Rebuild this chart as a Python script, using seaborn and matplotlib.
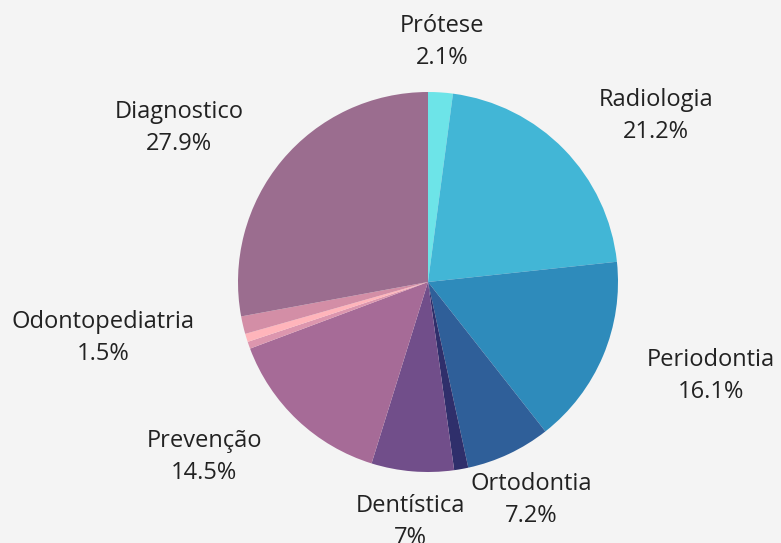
import numpy as np
import matplotlib
matplotlib.use("Agg")
import matplotlib.pyplot as plt
import seaborn as sns

# slices clockwise from 12 o'clock
categories = ["Prótese", "Radiologia", "Periodontia", "Ortodontia", "Endodontia",
              "Dentística", "Prevenção", "Estomatologia", "Cirurgia",
              "Odontopediatria", "Diagnostico"]
values = [2.1, 21.2, 16.1, 7.2, 1.2, 7.0, 14.5, 0.6, 0.7, 1.5, 27.9]
pct_labels = ["2.1%", "21.2%", "16.1%", "7.2%", "", "7%", "14.5%", "", "", "1.5%", "27.9%"]
colors = ["#6de4e8", "#42b6d6", "#2e8bbb", "#2f5f99", "#2f2f6b",
          "#714e8a", "#a66b97", "#dc96ae", "#ffb5bb", "#d38ea6", "#9b6d8f"]

# label nudges in pixels (right, down)
nudges = [(0, 0), (18, 11), (23, -17), (-48, -3), (0, 0),
          (0, 0), (-20, -8), (0, 0), (0, 0), (-26, 8), (-21, 10)]

sns.set_theme(style="white")
plt.rcParams["font.family"] = ["Open Sans", "DejaVu Sans"]

W, H, dpi = 781, 543, 100
fig = plt.figure(figsize=(W / dpi, H / dpi), dpi=dpi, facecolor="#f4f4f4")
ax = fig.add_axes([0, 0, 1, 1])
ax.set_facecolor("#f4f4f4")

wedges, _ = ax.pie(values, colors=colors, startangle=90, counterclock=False,
                   radius=1, wedgeprops=dict(linewidth=0))

# pie geometry in pixels (set after pie, which resets limits)
cx, cy, R = 428, 282, 190
ax.set_xlim(-cx / R, (W - cx) / R)
ax.set_ylim(-(H - cy) / R, cy / R)
ax.set_aspect("equal")
ax.axis("off")

total = sum(values)
cum = 0.0
for cat, v, pl, (nx, ny) in zip(categories, values, pct_labels, nudges):
    mid = (cum + v / 2) / total * 2 * np.pi
    cum += v
    if not pl:
        continue
    dx, dy = np.sin(mid), np.cos(mid)
    r = 1.12
    ha = "left" if dx > 0.3 else ("right" if dx < -0.3 else "center")
    va = "bottom" if dy > 0.3 else ("top" if dy < -0.3 else "center")
    ax.annotate(f"{cat}\n{pl}", xy=(r * dx, r * dy),
                xytext=(nx * 72 / dpi, -ny * 72 / dpi), textcoords="offset points",
                ha=ha, va=va, fontsize=17, color="#222222",
                multialignment="center", linespacing=1.45)

fig.savefig("out.png", dpi=dpi, facecolor=fig.get_facecolor())
